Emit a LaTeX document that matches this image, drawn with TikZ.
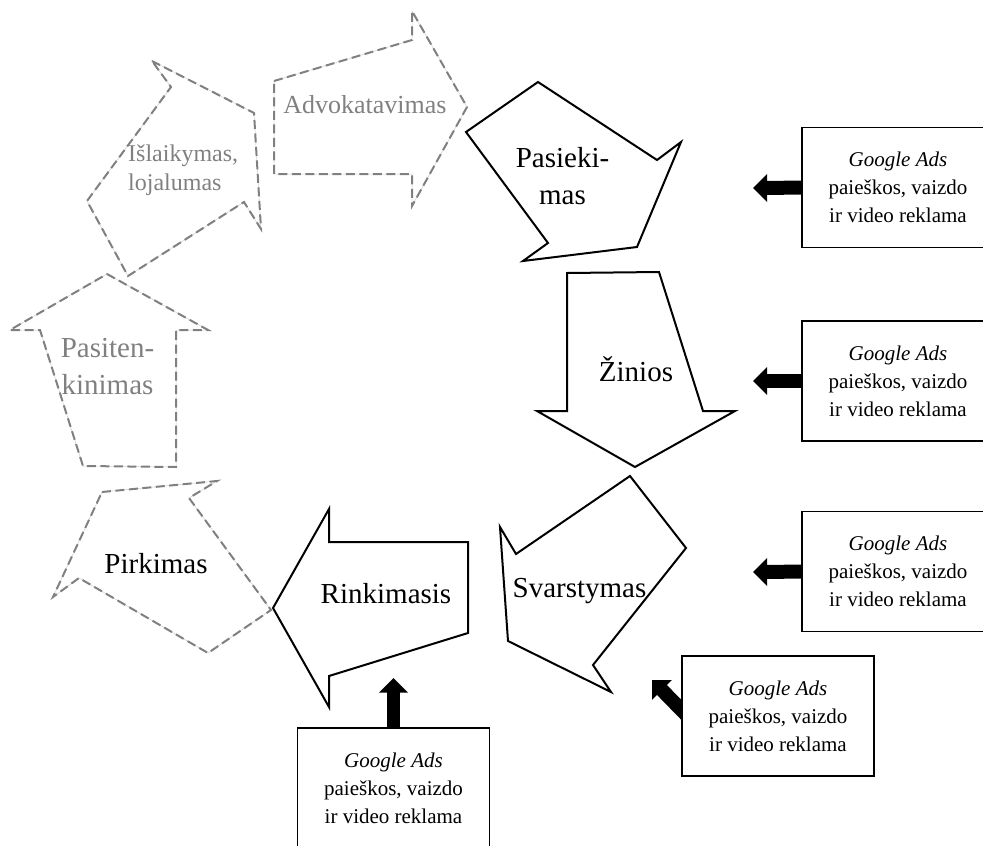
\documentclass[tikz,border=0pt]{standalone}
\usepackage{fontspec}
\setmainfont{Liberation Serif}
\usetikzlibrary{calc,backgrounds}
\definecolor{stgray}{RGB}{128,128,128}
\newcommand\twolinesc[2]{\vtop{\halign{\hfil##\hfil\cr#1\cr#2\cr}}}
\newcommand\twolinesl[2]{\vtop{\halign{##\hfil\cr#1\cr#2\cr}}}
\begin{document}
\begin{tikzpicture}[x=1pt,y=-1pt,
  solidstage/.style={draw=black,line width=2pt,line join=miter},
  ghoststage/.style={draw=stgray,line width=2pt,dash pattern=on 9pt off 4.5pt},
  ghostunder/.style={draw=stgray!40,line width=0.5pt},
  stagelabel/.style={inner sep=0pt,font=\fontsize{29}{37.5}\selectfont},
  ghostlabel/.style={stagelabel,text=stgray},
  adbox/.style={draw=black,line width=1.5pt,fill=white,inner sep=0pt,
    minimum width=192pt,minimum height=120pt,align=center,
    font=\fontsize{21}{28}\selectfont},
  shaft/.style={draw=black,line width=14pt}
]
\useasboundingbox (0,0) rectangle (983,846);
\clip (0,0) rectangle (983,846);

% ghost (dashed, grey) stages
\foreach \st in {ghostunder,ghoststage}{
  \draw[\st] (274,81) -- (412,40) -- (412,11) -- (467,107) -- (412,206) -- (412,174) -- (274,174) -- cycle;
  \draw[\st] (152,61) -- (254,113) -- (261,229) -- (244,202) -- (128,276) -- (87,201) -- (171,87) -- cycle;
  \draw[\st] (107,274) -- (208,330) -- (176,330) -- (176,467) -- (83,466) -- (40,330) -- (10,330) -- cycle;
  \draw[\st] (102,492) -- (217,481) -- (189,498) -- (271,610) -- (208,653) -- (79,578) -- (53,597) -- cycle;
}

% solid stages
\draw[solidstage] (538,82) -- (657,160) -- (681,142) -- (637,247) -- (523,261) -- (548,243) -- (466,132) -- cycle;
\draw[solidstage] (567,273) -- (659,272) -- (703,411) -- (735,411) -- (635,467) -- (537,411) -- (567,411) -- cycle;
\draw[solidstage] (630,476) -- (686,548) -- (593,665) -- (611,692) -- (508,641) -- (500,527) -- (516,554) -- cycle;
\draw[solidstage] (329,509) -- (329,542) -- (468,542) -- (468,633) -- (329,676) -- (329,707) -- (273,608) -- cycle;

% stage labels
\node[ghostlabel,anchor=base,font=\fontsize{26}{32}\selectfont] (advokatavimas) at (365,113) {Advokatavimas};
\node[ghostlabel,anchor=base west,font=\fontsize{24}{29}\selectfont] (islaikymas) at (128,161) {\twolinesl{Išlaikymas,}{lojalumas}};
\node[ghostlabel,anchor=base] (pasitenkinimas) at (107.5,357) {\twolinesc{Pasiten-}{kinimas}};
\node[stagelabel,anchor=base] (pirkimas) at (156,573) {Pirkimas};
\node[stagelabel,anchor=base] (pasiekimas) at (562.5,167.3) {\twolinesc{Pasieki-}{mas}};
\node[stagelabel,anchor=base] (zinios) at (636,381.7) {Žinios};
\node[stagelabel,anchor=base] (svarstymas) at (579.5,597) {Svarstymas};
\node[stagelabel,anchor=base] (rinkimasis) at (386,603) {Rinkimasis};

% ad boxes
\node[adbox] (ad1) at (898,187.5) {\textit{Google Ads}\\paieškos, vaizdo\\ir video reklama};
\node[adbox] (ad2) at (898,381) {\textit{Google Ads}\\paieškos, vaizdo\\ir video reklama};
\node[adbox] (ad3) at (898,571.5) {\textit{Google Ads}\\paieškos, vaizdo\\ir video reklama};
\node[adbox] (ad4) at (778,716) {\textit{Google Ads}\\paieškos, vaizdo\\ir video reklama};
\node[adbox] (ad5) at (393.5,788) {\textit{Google Ads}\\paieškos, vaizdo\\ir video reklama};

% arrow tips and head bases
\coordinate (t1) at (753,188);
\coordinate (t2) at (753,381);
\coordinate (t3) at (753,572);
\coordinate (t4) at (652,680);
\coordinate (t5) at (393.5,678);

\begin{scope}[on background layer]
  \draw[shaft] (ad1.west) -- ($(t1)+(13,0)$);
  \fill (t1) -- ($(t1)+(14,-14)$) -- ($(t1)+(14,14)$) -- cycle;
  \draw[shaft] (ad2.west) -- ($(t2)+(13,0)$);
  \fill (t2) -- ($(t2)+(14,-14)$) -- ($(t2)+(14,14)$) -- cycle;
  \draw[shaft] (ad3.west) -- ($(t3)+(13,0)$);
  \fill (t3) -- ($(t3)+(14,-14)$) -- ($(t3)+(14,14)$) -- cycle;
  \draw[shaft] ([shift={(10,4)}]ad4.west) -- ($(t4)+(9.2,9.2)$);
  \fill (t4) -- ($(t4)+(19.8,0)$) -- ($(t4)+(0,19.8)$) -- cycle;
  \draw[shaft,line width=13pt] (ad5.north) -- ($(t5)+(0,14)$);
  \fill (t5) -- ($(t5)+(-14.5,14.5)$) -- ($(t5)+(14.5,14.5)$) -- cycle;
\end{scope}
\end{tikzpicture}
\end{document}
